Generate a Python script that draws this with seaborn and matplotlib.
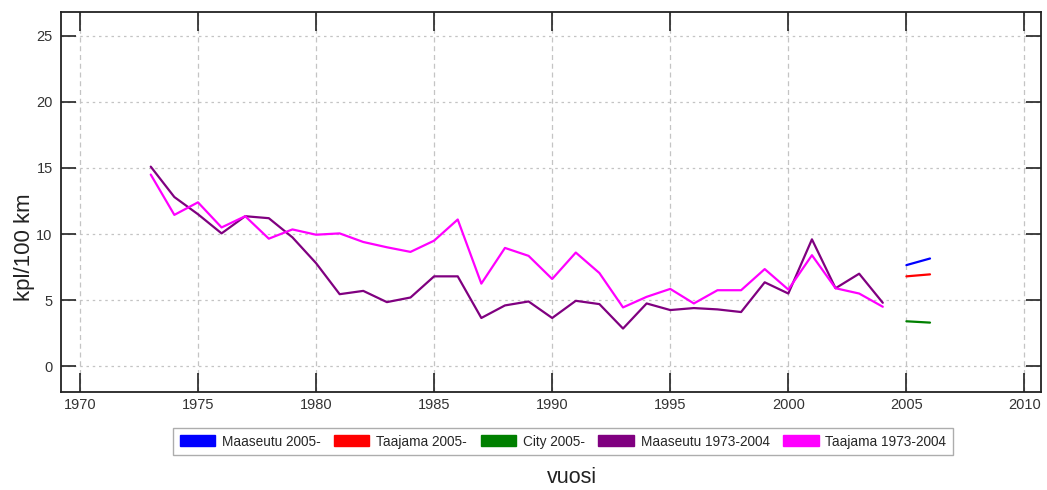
import numpy as np
import pandas as pd
import matplotlib
matplotlib.use("Agg")
import matplotlib.pyplot as plt
import seaborn as sns
from matplotlib.patches import Patch
from matplotlib.ticker import MultipleLocator

years_old = list(range(1973, 2005))
maaseutu_old = [15.1, 12.8, 11.5, 10.05, 11.35, 11.2, 9.75, 7.8, 5.45, 5.7, 4.85, 5.2,
                6.8, 6.8, 3.65, 4.6, 4.9, 3.65, 4.95, 4.7, 2.85, 4.75, 4.25, 4.4,
                4.3, 4.1, 6.35, 5.5, 9.6, 5.9, 7.0, 4.8]
taajama_old = [14.5, 11.45, 12.4, 10.5, 11.35, 9.65, 10.35, 9.95, 10.05, 9.4, 9.0, 8.65,
               9.5, 11.1, 6.25, 8.95, 8.35, 6.6, 8.6, 7.05, 4.45, 5.25, 5.85, 4.75,
               5.75, 5.75, 7.35, 5.8, 8.4, 5.9, 5.5, 4.5]
years_new = [2005, 2006]
maaseutu_new = [7.65, 8.15]
taajama_new = [6.8, 6.95]
city_new = [3.4, 3.3]

series_names = ["Maaseutu 2005-", "Taajama 2005-", "City 2005-",
                "Maaseutu 1973-2004", "Taajama 1973-2004"]
series_colors = ["#0000ff", "#ff0000", "#008000", "#800080", "#ff00ff"]

frames = [
    pd.DataFrame({"vuosi": years_new, "kpl": maaseutu_new, "sarja": series_names[0]}),
    pd.DataFrame({"vuosi": years_new, "kpl": taajama_new, "sarja": series_names[1]}),
    pd.DataFrame({"vuosi": years_new, "kpl": city_new, "sarja": series_names[2]}),
    pd.DataFrame({"vuosi": years_old, "kpl": maaseutu_old, "sarja": series_names[3]}),
    pd.DataFrame({"vuosi": years_old, "kpl": taajama_old, "sarja": series_names[4]}),
]
df = pd.concat(frames, ignore_index=True)

sns.set_style("white")
plt.rcParams['font.family'] = ['Liberation Sans', 'DejaVu Sans']

fig = plt.figure(figsize=(10.47, 4.9), dpi=100)
ax = fig.add_axes([61/1047, 1-392/490, 980/1047, 380/490])

palette = dict(zip(series_names, series_colors))
sns.lineplot(data=df, x="vuosi", y="kpl", hue="sarja", palette=palette,
             hue_order=series_names, linewidth=1.6, ax=ax, legend=False)

ax.set_xlim(1969.2, 2010.7)
ax.set_ylim(-1.95, 26.8)
ax.xaxis.set_major_locator(MultipleLocator(5))
ax.yaxis.set_major_locator(MultipleLocator(5))
ax.xaxis.grid(True, color="#c4c4c4", linestyle=(0, (4, 3)), linewidth=0.9)
ax.yaxis.grid(True, color="#c4c4c4", linestyle=(0, (2, 3)), linewidth=0.9)
for s in ax.spines.values():
    s.set_color("#222222")
    s.set_linewidth(1.3)
ax.tick_params(axis="x", which="major", direction="in", length=14, width=1.2,
               top=True, bottom=True, color="#222222", pad=4)
ax.tick_params(axis="y", which="major", direction="in", length=10.5, width=1.2,
               left=True, right=True, color="#222222", pad=6)
for lab in ax.get_xticklabels() + ax.get_yticklabels():
    lab.set_fontsize(10.5)
    lab.set_color("#333333")

ax.set_xlabel("vuosi", fontsize=15.5, color="#222222")
ax.xaxis.set_label_coords(0.521, -0.226)
ax.xaxis.label.set_va("center")
ax.set_ylabel("kpl/100 km", fontsize=16, color="#222222")
ax.yaxis.set_label_coords(-0.037, 0.38)
ax.yaxis.label.set_va("center")

handles = [Patch(facecolor=c, edgecolor=c) for c in series_colors]
leg = fig.legend(handles, series_names, loc="upper center",
                 bbox_to_anchor=(563/1047, 1-421/490), ncol=5,
                 prop={'size': 9.8},
                 frameon=True, fancybox=False, edgecolor="#999999",
                 handlelength=2.6, handleheight=0.85, handletextpad=0.5,
                 columnspacing=1.0, borderpad=0.5)
leg.get_frame().set_linewidth(1.0)

fig.savefig("out.png", dpi=100, facecolor="white")
